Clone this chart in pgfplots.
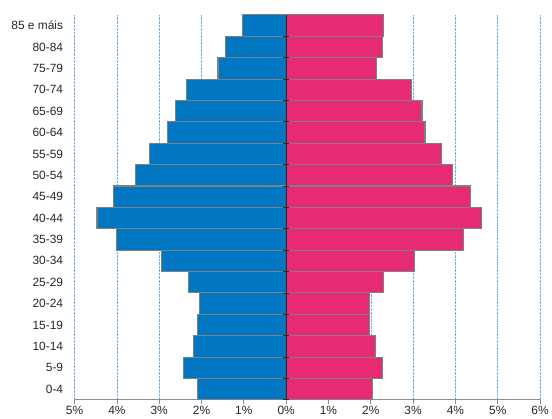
\documentclass[border=0pt]{standalone}
\usepackage{pgfplots}
\pgfplotsset{compat=1.18}
\usepackage{pgfplotstable}
\usepackage{fontspec}
\setmainfont{Liberation Sans}
\definecolor{mblue}{RGB}{0,119,192}
\definecolor{fpink}{RGB}{230,42,116}
\definecolor{gridblue}{RGB}{110,170,225}
\pgfplotstableread{
idx male female
0 -2.09 2.03
1 -2.42 2.28
2 -2.20 2.12
3 -2.09 1.96
4 -2.05 1.97
5 -2.30 2.31
6 -2.94 3.04
7 -4.02 4.20
8 -4.47 4.62
9 -4.09 4.36
10 -3.56 3.93
11 -3.22 3.67
12 -2.81 3.28
13 -2.62 3.21
14 -2.36 2.97
15 -1.61 2.13
16 -1.44 2.27
17 -1.03 2.30
}\pyr
\begin{document}
\begin{tikzpicture}
\begin{axis}[
  scale only axis,
  width=468pt, height=387pt,
  xmin=-5, xmax=6,
  ymin=-0.5, ymax=17.5,
  xtick={-5,...,6},
  xticklabels={5\%,4\%,3\%,2\%,1\%,0\%,1\%,2\%,3\%,4\%,5\%,6\%},
  ytick={0,...,17},
  yticklabels={0-4,5-9,10-14,15-19,20-24,25-29,30-34,35-39,40-44,45-49,50-54,55-59,60-64,65-69,70-74,75-79,80-84,85 e máis},
  axis x line*=bottom,
  axis y line*=left,
  y axis line style={draw=none},
  x axis line style={draw=gray!90, line width=0.9pt},
  xtick align=outside,
  major tick length=4pt,
  xtick style={draw=gray!90, line width=0.8pt},
  ytick style={draw=none},
  xmajorgrids,
  grid style={gridblue, densely dotted, line width=0.6pt},
  tick label style={font=\fontsize{12}{14}\selectfont, text=black!85},
  yticklabel style={xshift=-4pt},
  xticklabel style={yshift=1pt},
  xbar, bar width=1, bar shift=0pt,
  clip=false,
]
\addplot[fill=mblue, draw=gray, line width=1.1pt] table[x=male, y=idx] {\pyr};
\addplot[fill=fpink, draw=gray, line width=1.1pt] table[x=female, y=idx] {\pyr};
\draw[black!85, line width=0.8pt] (axis cs:0,-0.5) -- (axis cs:0,17.5);
\pgfplotsinvokeforeach{0,...,17}{
  \draw[black!85, line width=0.8pt] ([xshift=-3pt]axis cs:0,#1-0.5) -- ([xshift=3pt]axis cs:0,#1-0.5);
}
\coordinate (bbA) at ([xshift=-75pt,yshift=-19pt]rel axis cs:0,0);
\coordinate (bbB) at ([xshift=9pt,yshift=15pt]rel axis cs:1,1);
\end{axis}
\path (bbA) rectangle (bbB);
\end{tikzpicture}
\end{document}
